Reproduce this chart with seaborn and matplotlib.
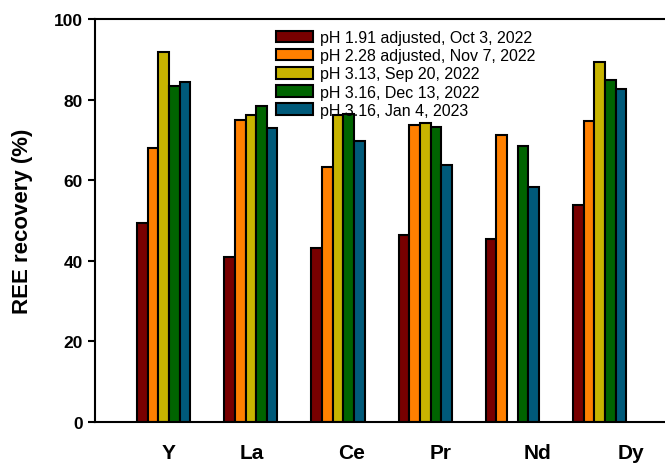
import numpy as np
import pandas as pd
import seaborn as sb
import matplotlib
matplotlib.use("Agg")
import matplotlib.pyplot as plt

# Data
elements = ["Y", "La", "Ce", "Pr", "Nd", "Dy"]
series = ["pH 1.91 adjusted, Oct 3, 2022",
          "pH 2.28 adjusted, Nov 7, 2022",
          "pH 3.13, Sep 20, 2022",
          "pH 3.16, Dec 13, 2022",
          "pH 3.16, Jan 4, 2023"]
ph191 = [49.5, 41.0, 43.2, 46.4, 45.5, 53.8]
ph228 = [68.1, 75.0, 63.3, 73.7, 71.3, 74.8]
ph313 = [91.9, 76.1, 76.2, 74.1, np.nan, 89.4]
ph316_dec = [83.4, 78.4, 76.5, 73.1, 68.5, 84.9]
ph316_jan = [84.3, 72.9, 69.8, 63.8, 58.2, 82.7]

colors = ["#780000", "#ff8000", "#c8b400", "#006400", "#005a7a"]

# long table for seaborn
rows = []
for name, vals in zip(series, [ph191, ph228, ph313, ph316_dec, ph316_jan]):
    for el, v in zip(elements, vals):
        rows.append({"Element": el, "Series": name, "Recovery": v})
df = pd.DataFrame(rows)

sb.set_style("ticks")
plt.rcParams['font.family'] = ['Liberation Sans', 'DejaVu Sans']
for key in ['text.color', 'axes.labelcolor', 'xtick.color', 'ytick.color', 'axes.edgecolor']:
    plt.rcParams[key] = 'black'

fig = plt.figure(figsize=(6.65, 4.64), dpi=100)
ax = fig.add_axes([95 / 665, 41 / 464, 570 / 665, 403 / 464])

sb.barplot(data=df, x="Element", y="Recovery", hue="Series", order=elements,
           hue_order=series, palette=colors, saturation=1, width=0.61,
           edgecolor="black", linewidth=1.5, errorbar=None, ax=ax)

ax.set_ylim(0, 100)
ax.set_xlim(-0.788, 5.75)
ax.set_yticks(np.arange(0, 101, 20))
ax.set_yticklabels([str(v) for v in range(0, 101, 20)], fontsize=12.5, fontweight='bold')

# the category labels sit a little to the right of the groups in the original
label_shift = [0.06, 0.01, 0.15, 0.18, 0.29, 0.36]
ax.set_xticks([i + s for i, s in enumerate(label_shift)])
ax.set_xticklabels(elements, fontsize=15, fontweight='bold')
ax.tick_params(axis='x', length=0, pad=15)
ax.tick_params(axis='y', length=5, width=1.5, direction='out', pad=4)

ax.set_xlabel("")
ax.set_ylabel("REE recovery (%)", fontsize=16, fontweight='bold', labelpad=15)

for side in ['left', 'bottom', 'top']:
    ax.spines[side].set_linewidth(1.5)
ax.spines['right'].set_visible(False)

handles, labels = ax.get_legend_handles_labels()
ax.legend(handles, labels, loc='upper left', bbox_to_anchor=(276 / 665, 433 / 464),
          bbox_transform=fig.transFigure, frameon=False, fontsize=11.5,
          handlelength=2.3, handleheight=0.75, handletextpad=0.45,
          labelspacing=0.2, borderpad=0, borderaxespad=0)

fig.savefig("out.png", dpi=100)
